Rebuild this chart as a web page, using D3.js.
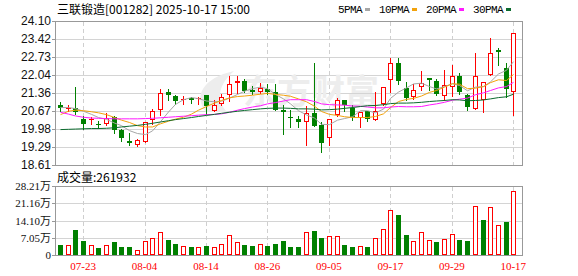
<!DOCTYPE html>
<html>
<head>
<meta charset="utf-8">
<script src="https://cdn.jsdelivr.net/npm/d3@7"></script>
<style>
  body { margin: 0; background: #fff; }
  svg { display: block; }
</style>
</head>
<body>
<script>
var title = "三联锻造[001282] 2025-10-17 15:00";

var dates = ["07-18", "07-21", "07-22", "07-23", "07-24", "07-25", "07-28", "07-29", "07-30", "07-31",
  "08-01", "08-04", "08-05", "08-06", "08-07", "08-08", "08-11", "08-12", "08-13", "08-14",
  "08-15", "08-18", "08-19", "08-20", "08-21", "08-22", "08-25", "08-26", "08-27", "08-28",
  "08-29", "09-01", "09-02", "09-03", "09-04", "09-05", "09-08", "09-09", "09-10", "09-11",
  "09-12", "09-15", "09-16", "09-17", "09-18", "09-19", "09-22", "09-23", "09-24", "09-25",
  "09-26", "09-29", "09-30", "10-09", "10-10", "10-13", "10-14", "10-15", "10-16", "10-17"];

var openP = [20.88, 20.75, 20.77, 20.37, 20.35, 20.18, 20.17, 20.44, 19.96, 19.54,
  19.37, 19.49, 20.34, 20.72, 21.38, 21.23, 21.08, 21.16, 21.13, 21.26,
  20.67, 20.95, 21.26, 21.74, 21.83, 21.47, 21.38, 21.49, 21.38, 20.72,
  20.45, 20.37, 20.24, 20.60, 20.15, 19.64, 20.51, 21.09, 20.79, 20.40,
  20.66, 20.32, 20.95, 21.84, 22.50, 21.55, 21.21, 21.59, 21.91, 21.83,
  21.23, 21.59, 22.02, 21.27, 20.75, 21.07, 22.03, 23.01, 22.31, 21.40];
var highP = [21.00, 20.90, 21.59, 20.49, 20.44, 20.27, 20.60, 20.49, 19.99, 19.83,
  19.59, 20.26, 20.75, 21.49, 21.51, 21.26, 21.23, 21.21, 21.21, 21.28,
  21.08, 21.33, 22.02, 22.00, 21.87, 21.61, 21.72, 21.68, 21.68, 20.91,
  20.72, 20.49, 20.85, 22.50, 20.24, 20.37, 21.17, 21.09, 20.88, 20.62,
  20.68, 21.38, 21.59, 22.69, 22.69, 21.77, 21.70, 22.18, 21.93, 21.89,
  22.22, 22.44, 22.10, 21.33, 22.88, 21.78, 23.46, 23.08, 22.50, 23.65];
var lowP = [20.68, 20.66, 20.57, 19.98, 20.18, 20.01, 20.15, 19.83, 19.53, 19.39,
  19.32, 19.48, 20.18, 20.53, 21.08, 20.95, 20.95, 20.98, 20.95, 20.55,
  20.66, 20.91, 21.04, 21.36, 21.38, 21.30, 21.37, 21.33, 20.72, 19.79,
  20.06, 20.06, 19.36, 20.09, 19.11, 19.39, 20.49, 20.66, 20.34, 20.05,
  20.30, 20.32, 20.91, 21.38, 21.71, 21.10, 21.13, 21.46, 21.46, 21.26,
  21.10, 21.23, 21.33, 20.70, 20.75, 20.62, 22.03, 22.44, 21.21, 20.50];
var closeP = [20.77, 20.78, 20.63, 20.16, 20.36, 20.17, 20.42, 19.96, 19.63, 19.44,
  19.58, 20.25, 20.67, 21.36, 21.27, 21.04, 21.14, 21.08, 21.15, 20.85,
  20.90, 21.21, 21.70, 21.83, 21.45, 21.40, 21.53, 21.38, 20.72, 20.62,
  20.44, 20.24, 20.60, 20.09, 19.45, 20.37, 21.09, 20.88, 20.44, 20.62,
  20.37, 20.68, 21.59, 22.50, 21.80, 21.17, 21.46, 21.74, 21.84, 21.33,
  21.65, 22.01, 21.38, 20.82, 22.02, 21.78, 22.88, 22.92, 21.51, 23.65];
// close of the session before 07-18 (colours the first volume bar)
var prevClose = 20.95;

var volume = [41300, 41300, 103300, 57900, 41300, 30300, 41300, 53700, 34400, 34400,
  20700, 57900, 70200, 93700, 62000, 45500, 37200, 34400, 33000, 37200,
  31700, 44100, 81300, 52300, 41300, 37200, 44100, 37200, 45500, 57900,
  34400, 34400, 93700, 99200, 70200, 78500, 78500, 41300, 34400, 37200,
  34400, 68900, 106100, 186000, 165300, 82600, 56500, 93700, 60600, 53700,
  64700, 85400, 62000, 57900, 201100, 144600, 194200, 122600, 136400, 261932];

var ma5 = [20.80, 20.80, 20.76, 20.66, 20.54, 20.42, 20.35, 20.21, 20.11, 19.92,
  19.81, 19.77, 19.91, 20.26, 20.63, 20.92, 21.10, 21.18, 21.14, 21.05,
  21.02, 21.04, 21.16, 21.30, 21.42, 21.52, 21.58, 21.52, 21.30, 21.13,
  20.94, 20.68, 20.52, 20.40, 20.16, 20.15, 20.32, 20.38, 20.45, 20.68,
  20.68, 20.60, 20.74, 21.15, 21.39, 21.55, 21.70, 21.73, 21.60, 21.51,
  21.60, 21.71, 21.64, 21.44, 21.58, 21.60, 21.78, 22.08, 22.22, 22.55];
var ma10 = [20.53, 20.66, 20.70, 20.68, 20.64, 20.60, 20.53, 20.42, 20.32, 20.23,
  20.11, 20.06, 20.06, 20.18, 20.28, 20.36, 20.43, 20.55, 20.70, 20.84,
  20.97, 21.07, 21.17, 21.22, 21.24, 21.27, 21.31, 21.34, 21.30, 21.27,
  21.23, 21.13, 21.02, 20.85, 20.65, 20.54, 20.50, 20.45, 20.42, 20.42,
  20.42, 20.46, 20.56, 20.80, 21.03, 21.11, 21.15, 21.24, 21.38, 21.45,
  21.58, 21.71, 21.69, 21.52, 21.54, 21.60, 21.75, 21.86, 21.83, 22.06];
var ma20 = [20.62, 20.55, 20.48, 20.43, 20.40, 20.39, 20.38, 20.37, 20.37, 20.37,
  20.37, 20.38, 20.39, 20.41, 20.43, 20.45, 20.47, 20.49, 20.51, 20.53,
  20.54, 20.56, 20.62, 20.70, 20.76, 20.82, 20.87, 20.94, 20.99, 21.05,
  21.10, 21.10, 21.10, 21.03, 20.94, 20.91, 20.90, 20.89, 20.86, 20.85,
  20.82, 20.79, 20.79, 20.82, 20.84, 20.83, 20.83, 20.84, 20.90, 20.94,
  21.00, 21.08, 21.12, 21.16, 21.29, 21.36, 21.45, 21.55, 21.60, 21.76];
var ma30 = [19.96, 19.97, 19.98, 19.99, 20.00, 20.00, 20.01, 20.03, 20.06, 20.09,
  20.12, 20.16, 20.20, 20.25, 20.30, 20.34, 20.38, 20.42, 20.46, 20.50,
  20.54, 20.58, 20.62, 20.66, 20.69, 20.72, 20.75, 20.77, 20.78, 20.78,
  20.77, 20.75, 20.75, 20.74, 20.71, 20.72, 20.74, 20.77, 20.80, 20.84,
  20.87, 20.88, 20.91, 20.95, 20.97, 20.97, 20.98, 21.00, 21.03, 21.05,
  21.07, 21.10, 21.09, 21.06, 21.07, 21.09, 21.13, 21.18, 21.21, 21.31];

var priceTicks = [18.61, 19.29, 19.98, 20.67, 21.36, 22.04, 22.73, 23.42, 24.10];
var volTicks = [0, 70525, 141050, 211575, 282100];
var volTickLabels = ["0", "7.05万", "14.10万", "21.16万", "28.21万"];
var xTickDates = ["07-23", "08-04", "08-14", "08-26", "09-05", "09-17", "09-29", "10-17"];

var maNames = ["5PMA", "10PMA", "20PMA", "30PMA"];
var maColors = ["#a6a6a6", "#f2a20c", "#ff1aff", "#0b6b2e"];

function draw_chart() {
  var width = 578;
  var height = 276;
  var left = 55;
  var right = 522;
  var priceTop = 21;
  var priceBottom = 165;
  var volTop = 186;
  var volBottom = 255;
  var red = "#ff0000";
  var green = "#008000";

  var svg = d3.select("body")
    .append("svg")
    .attr("width", width)
    .attr("height", height)
    .style("font-family", "'Liberation Sans', Arial, sans-serif");

  svg.append("rect")
    .attr("width", width)
    .attr("height", height)
    .attr("fill", "#fff");

  var x = d3.scaleBand().domain(dates).range([56.2, 517.1]);
  var cx = function (d) {
    return Math.round(x(d) + x.bandwidth() / 2);
  };
  var y = d3.scaleLinear().domain([18.61, 24.10]).rangeRound([priceBottom, priceTop]);
  var yLine = y.copy().interpolate(d3.interpolateNumber);
  var yv = d3.scaleLinear().domain([0, 282100]).rangeRound([volBottom, volTop]);

  // horizontal grid
  svg.append("g")
    .attr("transform", "translate(" + left + ",0)")
    .call(d3.axisLeft(y).tickValues(priceTicks.slice(1, -1)).tickSize(-(right - left)).tickFormat(""))
    .call(function (g) {
      g.select(".domain").remove();
      g.selectAll("line").attr("stroke", "#d4d4d4");
    });
  svg.append("g")
    .attr("transform", "translate(" + left + ",0)")
    .call(d3.axisLeft(yv).tickValues(volTicks.slice(1, -1)).tickSize(-(right - left)).tickFormat(""))
    .call(function (g) {
      g.select(".domain").remove();
      g.selectAll("line").attr("stroke", "#d4d4d4");
    });

  // dashed date lines
  [[priceTop + 1, priceBottom], [volTop + 1, volBottom]].forEach(function (span) {
    svg.append("g")
      .selectAll("line")
      .data(xTickDates)
      .enter()
      .append("line")
      .attr("x1", function (d) { return cx(d) + 0.5; })
      .attr("x2", function (d) { return cx(d) + 0.5; })
      .attr("y1", span[0])
      .attr("y2", span[1])
      .attr("stroke", "#cfcfcf")
      .attr("stroke-dasharray", "4,3");
  });

  // watermark
  svg.append("path")
    .attr("d", "M206,112 C193,96 203,78 234,71 C219,84 215,99 227,112 Z")
    .attr("fill", "#ededed");
  svg.append("text")
    .attr("x", 243)
    .attr("y", 104)
    .attr("font-family", "'Noto Sans CJK SC'")
    .attr("font-size", 34)
    .attr("font-weight", "bold")
    .attr("fill", "#ededed")
    .text("东方财富");

  // frames
  [[priceTop, priceBottom], [volTop, volBottom]].forEach(function (span) {
    svg.append("rect")
      .attr("x", left + 0.5)
      .attr("y", span[0] + 0.5)
      .attr("width", right - left)
      .attr("height", span[1] - span[0])
      .attr("fill", "none")
      .attr("stroke", "#999");
  });

  // y axes
  svg.append("g")
    .attr("transform", "translate(" + left + ",0)")
    .call(d3.axisLeft(y).tickValues(priceTicks).tickFormat(d3.format(".2f")).tickSize(3).tickSizeOuter(0).tickPadding(1))
    .call(function (g) {
      g.attr("color", "#999");
      g.selectAll("text").attr("fill", "#111").attr("font-size", 12).attr("font-family", "'Liberation Sans', Arial, sans-serif");
    });
  svg.append("g")
    .attr("transform", "translate(" + left + ",0)")
    .call(d3.axisLeft(yv).tickValues(volTicks).tickFormat(function (d, i) { return volTickLabels[i]; }).tickSize(3).tickSizeOuter(0).tickPadding(1))
    .call(function (g) {
      g.attr("color", "#999");
      g.selectAll("text").attr("fill", "#111").attr("font-size", 11).attr("font-family", "'Liberation Serif', 'Noto Sans CJK SC', serif");
    });

  // x labels
  svg.append("g")
    .attr("transform", "translate(0," + volBottom + ")")
    .call(d3.axisBottom(x).tickValues(xTickDates).tickSize(0).tickPadding(7))
    .call(function (g) {
      g.select(".domain").remove();
      g.selectAll("text").attr("fill", red).attr("font-size", 11).attr("font-family", "'Liberation Serif', serif");
    });

  // candles
  var idx = d3.range(dates.length);
  var candle = svg.append("g").selectAll("g").data(idx).enter().append("g");

  candle.append("line")
    .attr("x1", function (i) { return cx(dates[i]) + 0.5; })
    .attr("x2", function (i) { return cx(dates[i]) + 0.5; })
    .attr("y1", function (i) { return y(highP[i]); })
    .attr("y2", function (i) { return y(lowP[i]) + 1; })
    .attr("stroke", function (i) { return closeP[i] >= openP[i] ? red : green; });

  candle.each(function (i) {
    var g = d3.select(this);
    var up = closeP[i] >= openP[i];
    var top = y(Math.max(openP[i], closeP[i]));
    var bot = y(Math.min(openP[i], closeP[i]));
    var c = cx(dates[i]);
    if (bot - top < 2) {
      g.append("line")
        .attr("x1", c - 2)
        .attr("x2", c + 3)
        .attr("y1", top + 0.5)
        .attr("y2", top + 0.5)
        .attr("stroke", up ? red : green);
    } else if (up) {
      g.append("rect")
        .attr("x", c - 1.5)
        .attr("y", top + 0.5)
        .attr("width", 4)
        .attr("height", bot - top - 1)
        .attr("fill", "#fff")
        .attr("stroke", red);
    } else {
      g.append("rect")
        .attr("x", c - 2)
        .attr("y", top)
        .attr("width", 5)
        .attr("height", bot - top)
        .attr("fill", green);
    }
  });

  // moving averages
  [ma5, ma10, ma20, ma30].forEach(function (series, k) {
    var line = d3.line()
      .x(function (d, i) { return cx(dates[i]) + 0.5; })
      .y(function (d) { return yLine(d); });
    svg.append("path")
      .datum(series)
      .attr("d", line)
      .attr("fill", "none")
      .attr("stroke", maColors[k])
      .attr("stroke-width", 1);
  });

  // volume bars, coloured by close against previous close
  svg.append("g")
    .selectAll("rect")
    .data(idx)
    .enter()
    .append("rect")
    .each(function (i) {
      var prev = i === 0 ? prevClose : closeP[i - 1];
      var up = closeP[i] >= prev;
      var c = cx(dates[i]);
      var top = yv(volume[i]);
      var bar = d3.select(this);
      if (up) {
        bar.attr("x", c - 1.5).attr("y", top + 0.5).attr("width", 4).attr("height", volBottom - top - 1)
          .attr("fill", "#fff").attr("stroke", red);
      } else {
        bar.attr("x", c - 2).attr("y", top).attr("width", 5).attr("height", volBottom - top)
          .attr("fill", green);
      }
    });

  // title and volume caption
  svg.append("text")
    .attr("x", 57)
    .attr("y", 14)
    .attr("font-family", "'Noto Sans CJK SC', sans-serif")
    .attr("font-size", 12)
    .attr("fill", "#000")
    .text(title);
  svg.append("text")
    .attr("x", 57)
    .attr("y", 182)
    .attr("font-family", "'Noto Sans CJK SC', sans-serif")
    .attr("font-size", 12)
    .attr("fill", "#000")
    .text("成交量:" + volume[volume.length - 1]);

  // legend
  var lx = 338;
  maNames.forEach(function (name, k) {
    var t = svg.append("text")
      .attr("x", lx)
      .attr("y", 13)
      .attr("font-family", "'Liberation Mono', monospace")
      .attr("font-size", 11)
      .attr("letter-spacing", -0.6)
      .attr("fill", "#000")
      .text(name);
    var w = t.node().getComputedTextLength();
    svg.append("rect")
      .attr("x", Math.round(lx + w + 3))
      .attr("y", 8)
      .attr("width", 5)
      .attr("height", 3)
      .attr("fill", maColors[k]);
    lx = Math.round(lx + w + 3 + 5 + 9);
  });
}

draw_chart();
</script>
</body>
</html>
